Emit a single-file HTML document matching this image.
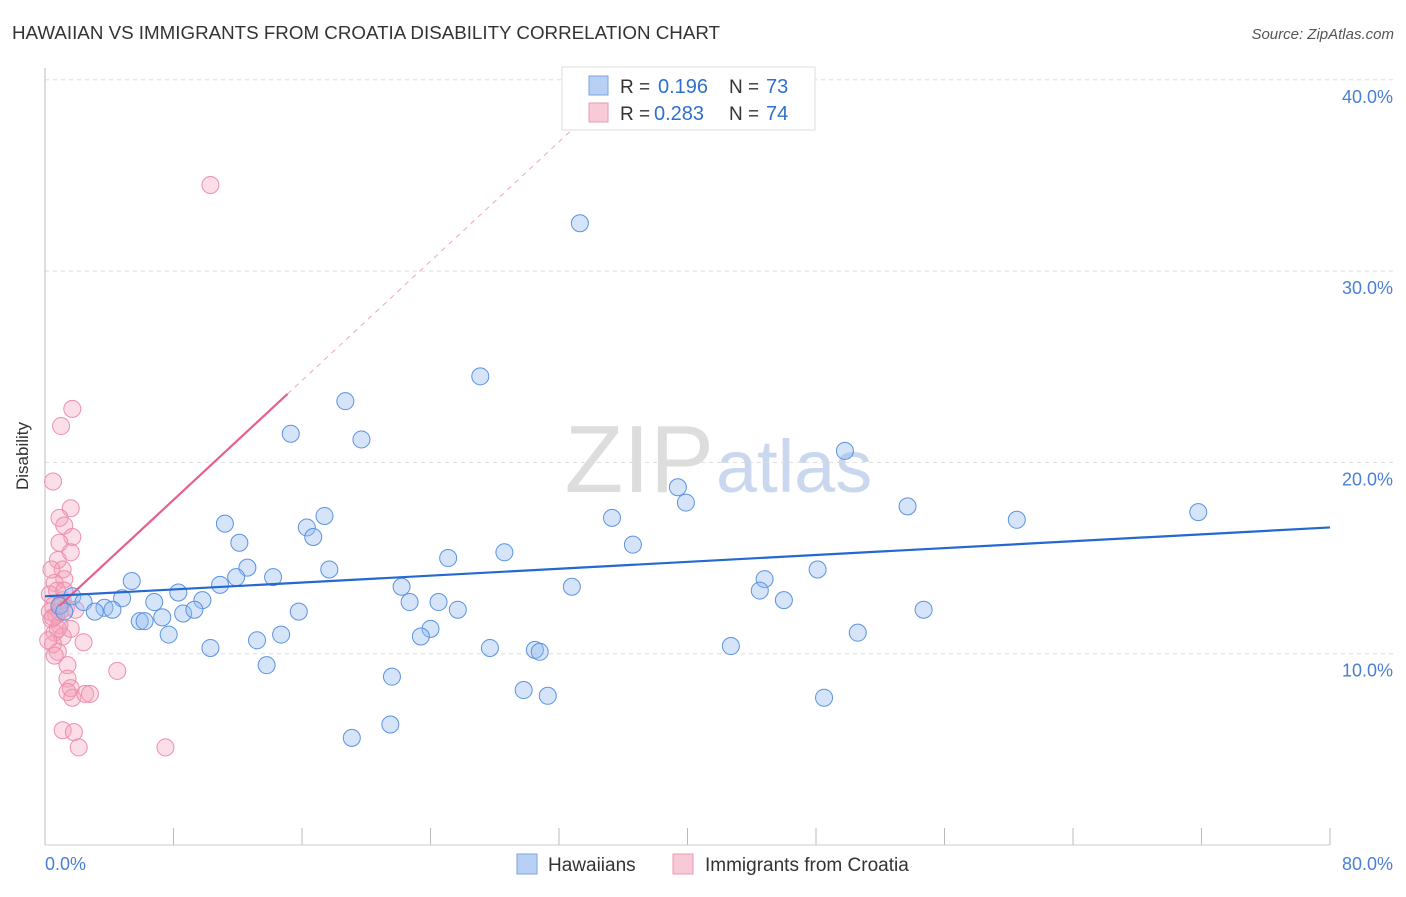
<!DOCTYPE html>
<html><head><meta charset="utf-8"><style>
body{margin:0;background:#fff;font-family:"Liberation Sans",sans-serif;}
svg text{font-family:"Liberation Sans",sans-serif;}
</style></head><body>
<svg id="chart" width="1406" height="892" xmlns="http://www.w3.org/2000/svg">
<text x="12" y="39" font-size="18" fill="#333" textLength="708" lengthAdjust="spacingAndGlyphs">HAWAIIAN VS IMMIGRANTS FROM CROATIA DISABILITY CORRELATION CHART</text>
<text x="1394" y="39" font-size="15" fill="#555" font-style="italic" text-anchor="end">Source: ZipAtlas.com</text>
<text x="714" y="492" font-size="96" fill="#ddd" font-family="Liberation Serif" text-anchor="end">ZIP</text>
<text x="716" y="492" font-size="74" fill="#c9d8ee" text-anchor="start">atlas</text>
<g id="grid"></g>
<line x1="45" y1="68" x2="45" y2="845" stroke="#bbb"/>
<line x1="45" y1="845" x2="1330" y2="845" stroke="#ccc"/>
<text x="28" y="456" font-size="17" fill="#333" text-anchor="middle" transform="rotate(-90 28 456)">Disability</text>
<text x="45" y="870" font-size="18" fill="#4a7fd4">0.0%</text>
<text x="1393" y="870" font-size="18" fill="#4a7fd4" text-anchor="end">80.0%</text>
<g id="lines"></g>
<g id="pts"></g>
<g>
<rect x="562" y="67" width="253" height="63" fill="#fff" stroke="#ddd"/>
<rect x="589" y="76" width="19" height="19" fill="#b8d0f3" stroke="#7aa3e0"/>
<text x="620" y="93" font-size="19" fill="#333">R =</text>
<text x="658" y="93" font-size="20" fill="#2f6fd0">0.196</text>
<text x="729" y="93" font-size="19" fill="#333">N =</text>
<text x="766" y="93" font-size="20" fill="#2f6fd0">73</text>
<rect x="589" y="103" width="19" height="19" fill="#f8c9d6" stroke="#e99ab1"/>
<text x="620" y="120" font-size="19" fill="#333">R =</text>
<text x="654" y="120" font-size="20" fill="#2f6fd0">0.283</text>
<text x="729" y="120" font-size="19" fill="#333">N =</text>
<text x="766" y="120" font-size="20" fill="#2f6fd0">74</text>
</g>
<g>
<rect x="517" y="854" width="20" height="20" fill="#b8d0f3" stroke="#7aa3e0"/>
<text x="548" y="871" font-size="19" fill="#333">Hawaiians</text>
<rect x="673" y="854" width="20" height="20" fill="#f8c9d6" stroke="#e99ab1"/>
<text x="705" y="871" font-size="19" fill="#333">Immigrants from Croatia</text>
</g>
</svg>
<script>
const yTicks=[10,20,30,40];
const xTickCount=10;
const blueX=[33.3,27.1,18.7,15.3,19.7,49.8,39.4,39.9,53.7,71.8,60.5,35.3,17.4,11.2,16.3,16.7,12.1,36.6,28.6,25.1,12.6,17.7,48.1,5.4,14.2,11.9,10.9,44.8,22.2,32.8,44.5,8.3,4.8,1.7,2.4,9.8,6.8,46.0,22.7,24.5,3.7,4.2,3.1,8.6,9.3,15.8,25.7,54.7,5.9,6.2,7.3,24.0,7.7,14.7,23.4,13.2,50.6,10.3,27.7,30.5,30.8,42.7,13.8,21.6,29.8,31.3,48.5,21.5,19.1,0.9,1.2];
const blueY=[32.5,24.5,23.2,21.5,21.2,20.6,18.7,17.9,17.7,17.4,17.0,17.1,17.2,16.8,16.6,16.1,15.8,15.7,15.3,15.0,14.5,14.4,14.4,13.8,14.0,14.0,13.6,13.9,13.5,13.5,13.3,13.2,12.9,13.0,12.7,12.8,12.7,12.8,12.7,12.7,12.4,12.3,12.2,12.1,12.3,12.2,12.3,12.3,11.7,11.7,11.9,11.3,11.0,11.0,10.9,10.7,11.1,10.3,10.3,10.2,10.1,10.4,9.4,8.8,8.1,7.8,7.7,6.3,5.6,12.5,12.2];
const pinkX=[10.3,1.7,1.0,0.5,1.6,0.9,1.2,1.7,0.9,1.6,0.8,1.1,1.2,0.6,0.75,0.3,1.1,0.5,1.3,1.9,0.7,0.4,0.9,1.6,0.6,1.1,2.4,0.5,0.8,0.6,4.5,1.4,1.4,1.6,1.4,1.7,2.5,2.8,1.1,1.8,2.1,7.5,0.3,0.8,0.2,0.9,1.2,0.4,0.5,1.0];
const pinkY=[34.5,22.8,21.9,19.0,17.6,17.1,16.7,16.1,15.8,15.3,14.9,14.4,13.9,13.7,13.3,13.1,12.8,12.5,12.4,12.3,12.0,11.8,11.5,11.3,11.1,10.9,10.6,10.5,10.1,9.9,9.1,9.4,8.7,8.2,8.0,7.7,7.9,7.9,6.0,5.9,5.1,5.1,12.2,11.3,10.7,12.2,13.3,14.4,11.9,12.6];
const blueTrend=[13.0,16.6];
const pinkTrend=[11.8,0.78];
const pinkSolidEnd=15.1, pinkDashEnd=33;
const X=v=>45+v*(1330-45)/80;
const Y=v=>845-v*19.13;
const NS="http://www.w3.org/2000/svg";
function mk(tag,attrs,parent){const e=document.createElementNS(NS,tag);for(const k in attrs)e.setAttribute(k,attrs[k]);parent.appendChild(e);return e;}
const grid=document.getElementById('grid');
yTicks.forEach(t=>{
 const l=mk('line',{x1:45,x2:1393,y1:Y(t),y2:Y(t),stroke:'#ddd','stroke-dasharray':'4,4'},grid);
 
 
 const tx=mk('text',{x:1393,y:Y(t)+23,'font-size':18,fill:'#4a7fd4','text-anchor':'end'},grid);
 tx.textContent=t.toFixed(1)+'%';
 
 
});
for(let i=1;i<=xTickCount;i++){
 const l=mk('line',{x1:X(i*8),x2:X(i*8),y1:828,y2:845,stroke:'#bbb'},grid);
 
 
}
const pts=document.getElementById('pts');
pinkX.forEach((x,i)=>{
 const c=mk('circle',{cx:X(x),cy:Y(pinkY[i]),r:8.5,fill:'rgba(244,160,186,0.35)',stroke:'#ee8fac','stroke-width':1},pts);
 
 
});
blueX.forEach((x,i)=>{
 const c=mk('circle',{cx:X(x),cy:Y(blueY[i]),r:8.5,fill:'rgba(150,188,240,0.4)',stroke:'#5b93e0','stroke-width':1},pts);
 
 
});
const lines=document.getElementById('lines');
const pl=v=>pinkTrend[0]+pinkTrend[1]*v;
const d=mk('line',{x1:X(pinkSolidEnd),y1:Y(pl(pinkSolidEnd)),x2:X(pinkDashEnd),y2:Y(pl(pinkDashEnd)),stroke:'#f0a5bb','stroke-dasharray':'5,5','stroke-width':1},lines);


const ps=mk('line',{x1:X(0.9),y1:Y(pl(0.9)),x2:X(pinkSolidEnd),y2:Y(pl(pinkSolidEnd)),stroke:'#e8608a','stroke-width':2.2},pts);


const bl=mk('line',{x1:X(0),y1:Y(blueTrend[0]),x2:X(80),y2:Y(blueTrend[1]),stroke:'#2468d0','stroke-width':2.2},pts);


</script>
</body></html>
